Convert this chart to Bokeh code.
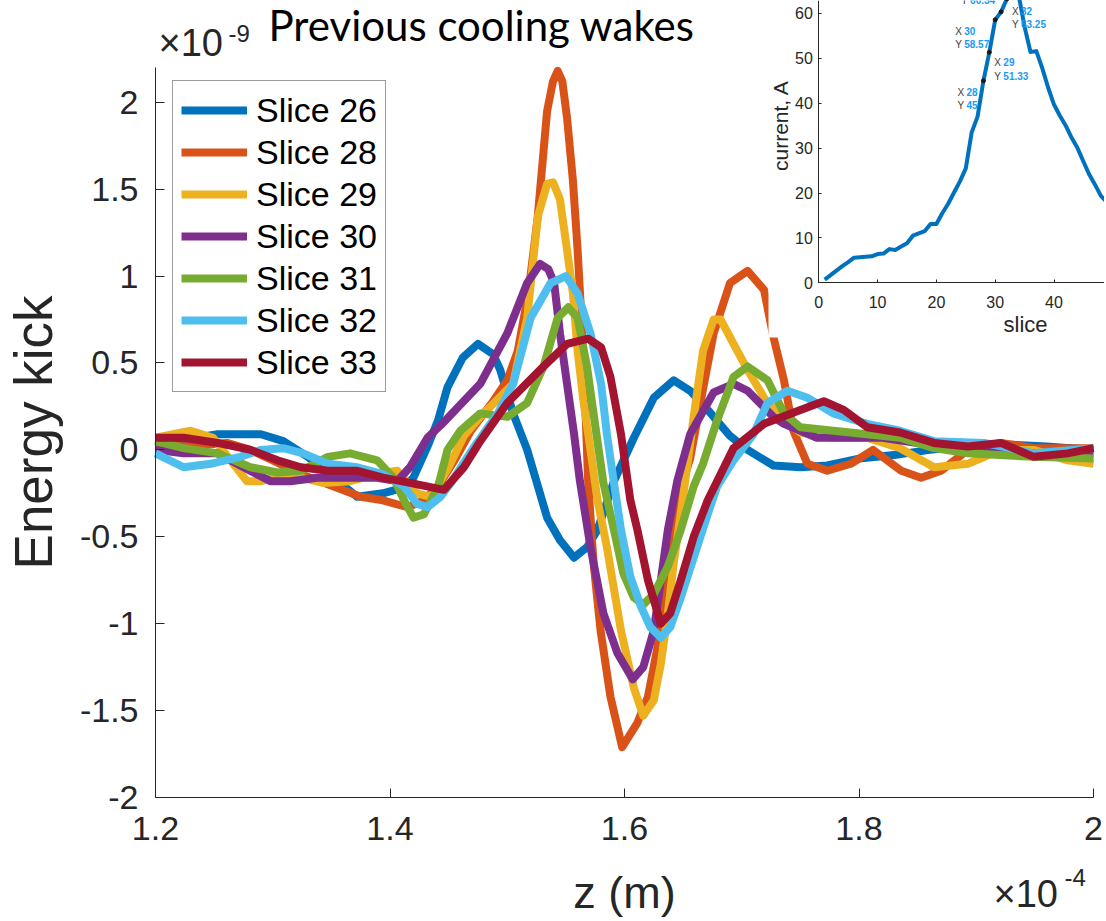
import math
from bokeh.plotting import figure
from bokeh.models import (Range1d, FixedTicker, CustomJSTickFormatter, Legend, LegendItem,
                          Label, LinearAxis, BoxAnnotation)
from bokeh.embed import file_html
from bokeh.resources import INLINE

# ---------------- data: main chart (z in 1e-4 m, energy kick in 1e-9) ----------------
z26 = [1.200, 1.225, 1.253, 1.290, 1.309, 1.330, 1.352, 1.372, 1.394, 1.410, 1.420, 1.432, 1.441, 1.449, 1.462,
       1.475, 1.488, 1.494, 1.505, 1.517, 1.534, 1.545, 1.557, 1.568, 1.577, 1.591, 1.608, 1.625, 1.642, 1.656,
       1.671, 1.690, 1.705, 1.727, 1.750, 1.773, 1.800, 1.830, 1.860, 1.893, 1.930, 1.960, 2.000]
v26 = [0.02, 0.06, 0.09, 0.09, 0.05, -0.04, -0.16, -0.27, -0.25, -0.22, -0.16, 0.02, 0.17, 0.36, 0.53,
       0.61, 0.55, 0.46, 0.21, 0.00, -0.39, -0.52, -0.62, -0.56, -0.46, -0.18, 0.07, 0.30, 0.40, 0.34,
       0.23, 0.08, 0.00, -0.09, -0.10, -0.09, -0.05, -0.03, 0.00, 0.02, 0.03, 0.02, 0.00]

z28 = [1.200, 1.224, 1.261, 1.281, 1.300, 1.324, 1.352, 1.375, 1.394, 1.415, 1.429, 1.441, 1.455, 1.469, 1.488,
       1.500, 1.509, 1.518, 1.526, 1.534, 1.539, 1.543, 1.547, 1.551, 1.556, 1.560, 1.5625, 1.566, 1.569, 1.5736,
       1.5796, 1.588, 1.598, 1.611, 1.620, 1.628, 1.637, 1.645, 1.650, 1.656, 1.667, 1.676, 1.690, 1.705, 1.719,
       1.727, 1.736, 1.744, 1.756, 1.773, 1.793, 1.812, 1.836, 1.853, 1.870, 1.893, 1.921, 1.949, 2.000]
v28 = [0.04, 0.02, 0.04, 0.00, -0.06, -0.14, -0.21, -0.27, -0.29, -0.33, -0.29, -0.21, -0.06, 0.11, 0.28,
       0.40, 0.57, 0.90, 1.34, 1.95, 2.12, 2.18, 2.12, 1.91, 1.55, 1.15, 0.85, 0.35, -0.18, -0.65,
       -1.04, -1.42, -1.71, -1.57, -1.42, -1.14, -0.75, -0.37, -0.18, -0.05, 0.35, 0.67, 0.96, 1.03, 0.92,
       0.65, 0.40, 0.11, -0.08, -0.12, -0.08, 0.00, -0.12, -0.16, -0.12, 0.00, 0.04, 0.01, 0.01]

z29 = [1.200, 1.230, 1.249, 1.264, 1.278, 1.290, 1.309, 1.324, 1.343, 1.366, 1.389, 1.406, 1.423, 1.435, 1.450,
       1.463, 1.477, 1.505, 1.517, 1.526, 1.534, 1.539, 1.545, 1.551, 1.556, 1.560, 1.565, 1.571, 1.577, 1.585,
       1.597, 1.608, 1.616, 1.625, 1.631, 1.637, 1.642, 1.650, 1.659, 1.667, 1.676, 1.682, 1.693, 1.705, 1.720,
       1.736, 1.750, 1.778, 1.807, 1.835, 1.864, 1.893, 1.921, 1.949, 1.978, 2.000]
v29 = [0.07, 0.11, 0.07, -0.06, -0.18, -0.18, -0.14, -0.16, -0.19, -0.18, -0.14, -0.12, -0.25, -0.27, -0.10,
       0.08, 0.19, 0.38, 0.76, 1.34, 1.53, 1.54, 1.44, 1.15, 0.90, 0.57, 0.28, 0.00, -0.29, -0.56,
       -1.04, -1.37, -1.53, -1.44, -1.23, -0.94, -0.65, -0.27, 0.19, 0.57, 0.75, 0.75, 0.61, 0.46, 0.29,
       0.17, 0.10, 0.07, 0.07, 0.01, -0.10, -0.08, 0.00, 0.00, -0.06, -0.08]

z30 = [1.200, 1.224, 1.253, 1.275, 1.298, 1.315, 1.338, 1.366, 1.389, 1.406, 1.417, 1.432, 1.446, 1.477, 1.500,
       1.517, 1.528, 1.535, 1.540, 1.545, 1.551, 1.557, 1.562, 1.571, 1.582, 1.594, 1.607, 1.616, 1.625, 1.631,
       1.637, 1.645, 1.656, 1.676, 1.693, 1.705, 1.727, 1.736, 1.764, 1.792, 1.820, 1.850, 1.878, 1.921, 1.978,
       2.000]
v30 = [0.00, -0.02, -0.02, -0.10, -0.18, -0.18, -0.16, -0.16, -0.16, -0.18, -0.10, 0.07, 0.16, 0.38, 0.67,
       0.96, 1.07, 1.04, 0.96, 0.67, 0.38, 0.09, -0.18, -0.56, -0.94, -1.17, -1.32, -1.25, -1.04, -0.75,
       -0.46, -0.18, 0.09, 0.33, 0.38, 0.34, 0.19, 0.15, 0.07, 0.07, 0.07, 0.04, 0.04, -0.02, -0.02,
       -0.02]

z31 = [1.200, 1.224, 1.253, 1.281, 1.304, 1.324, 1.347, 1.366, 1.389, 1.403, 1.412, 1.420, 1.429, 1.441, 1.449,
       1.460, 1.477, 1.500, 1.517, 1.531, 1.543, 1.552, 1.560, 1.568, 1.574, 1.582, 1.591, 1.599, 1.608, 1.616,
       1.625, 1.637, 1.648, 1.659, 1.667, 1.679, 1.693, 1.705, 1.722, 1.736, 1.750, 1.778, 1.807, 1.835, 1.864,
       1.893, 1.949, 2.000]
v31 = [0.05, 0.01, -0.02, -0.10, -0.13, -0.12, -0.04, -0.02, -0.06, -0.16, -0.29, -0.39, -0.37, -0.21, 0.00,
       0.11, 0.21, 0.19, 0.27, 0.48, 0.76, 0.82, 0.76, 0.48, 0.19, -0.19, -0.46, -0.71, -0.85, -0.89,
       -0.83, -0.67, -0.46, -0.21, -0.08, 0.17, 0.42, 0.48, 0.40, 0.21, 0.13, 0.11, 0.09, 0.07, 0.01,
       -0.02, -0.04, -0.05]

z32 = [1.200, 1.224, 1.247, 1.272, 1.290, 1.309, 1.326, 1.347, 1.372, 1.394, 1.412, 1.423, 1.432, 1.443, 1.452,
       1.471, 1.492, 1.505, 1.520, 1.537, 1.550, 1.560, 1.571, 1.580, 1.585, 1.591, 1.597, 1.605, 1.614, 1.622,
       1.631, 1.639, 1.648, 1.659, 1.671, 1.679, 1.693, 1.710, 1.722, 1.739, 1.756, 1.778, 1.807, 1.835, 1.864,
       1.907, 1.949, 2.000]
v32 = [-0.02, -0.10, -0.08, -0.04, 0.00, 0.01, -0.02, -0.08, -0.10, -0.14, -0.21, -0.31, -0.33, -0.27, -0.19,
       0.01, 0.21, 0.38, 0.76, 0.96, 1.00, 0.90, 0.67, 0.38, 0.09, -0.19, -0.46, -0.73, -0.90, -1.02,
       -1.08, -1.02, -0.85, -0.62, -0.37, -0.21, -0.06, 0.09, 0.27, 0.34, 0.30, 0.21, 0.15, 0.11, 0.05,
       0.04, -0.02, 0.01]

z33 = [1.200, 1.224, 1.253, 1.281, 1.304, 1.324, 1.347, 1.372, 1.394, 1.417, 1.446, 1.463, 1.477, 1.500, 1.528,
       1.551, 1.569, 1.580, 1.588, 1.597, 1.605, 1.611, 1.620, 1.631, 1.639, 1.648, 1.659, 1.671, 1.679, 1.693,
       1.719, 1.750, 1.770, 1.787, 1.807, 1.835, 1.864, 1.893, 1.921, 1.949, 1.978, 2.000]
v33 = [0.07, 0.07, 0.04, 0.00, -0.06, -0.10, -0.12, -0.12, -0.16, -0.19, -0.23, -0.10, 0.05, 0.27, 0.46,
       0.61, 0.64, 0.59, 0.42, 0.09, -0.29, -0.46, -0.75, -1.00, -0.94, -0.75, -0.50, -0.29, -0.18, 0.01,
       0.15, 0.23, 0.28, 0.23, 0.13, 0.10, 0.04, 0.02, 0.04, -0.04, -0.02, 0.01]

series_names = ["Slice 26", "Slice 28", "Slice 29", "Slice 30", "Slice 31", "Slice 32", "Slice 33"]
series_colors = ["#0072BD", "#D95319", "#EDB120", "#7E2F8E", "#77AC30", "#4DBEEE", "#A2142F"]
series_z = [z26, z28, z29, z30, z31, z32, z33]
series_v = [v26, v28, v29, v30, v31, v32, v33]

x_ticks = [1.2, 1.4, 1.6, 1.8, 2.0]
y_ticks = [-2.0, -1.5, -1.0, -0.5, 0.0, 0.5, 1.0, 1.5, 2.0]

# ---------------- data: inset (current per slice) ----------------
inset_slice = [1, 2, 3, 4, 5, 6, 7, 8, 9, 10, 11, 12, 13, 14, 15, 16, 17, 18, 19, 20,
               21, 22, 23, 24, 25, 26, 27, 28, 29, 30, 31, 32, 33, 34, 35, 36, 37, 38, 39, 40,
               41, 42, 43, 44, 45, 46, 47, 48, 49]
inset_current = [0.7, 1.7, 2.7, 3.7, 4.6, 5.6, 5.7, 5.8, 5.9, 6.4, 6.5, 7.5, 7.3, 8.1, 8.8, 10.5, 11.0, 11.5, 13.1, 13.1,
                 15.5, 17.6, 20.1, 22.6, 25.5, 33.5, 37.0, 45.0, 51.33, 58.57, 60.34, 63.25, 66.5, 64.0, 57.0, 51.4,
                 51.6, 47.8, 43.5, 39.7, 37.2, 35.0, 32.3, 30.0, 27.0, 24.1, 21.8, 19.3, 18.0]
tip_slice = [28, 29, 30, 31, 32]
tip_current = [45.0, 51.33, 58.57, 60.34, 63.25]
inset_x_ticks = [0, 10, 20, 30, 40, 50]
inset_y_ticks = [0, 10, 20, 30, 40, 50, 60]

# ---------------- page geometry (reference-page pixels) ----------------
W, H = 1104, 918
FONT = "Liberation Sans"
AX = "#262626"
ML, MR, MT, MB = 155.0, 1093.0, 67.0, 797.0      # main axes box
X0, X1, Y0, Y1 = 1.2, 2.0, -2.0, 2.2
IX0, IY0, IPX, IPY = 818.3, 282.3, 5.88, 4.49      # inset origin and px per unit
IBOX_L, IBOX_B = 768, 337                          # white inset box left / bottom

kx = (MR - ML) / (X1 - X0)
ky = (MB - MT) / (Y1 - Y0)

p = figure(width=W, height=H, output_backend="svg", toolbar_location=None,
           x_axis_type=None, y_axis_type=None,
           x_range=Range1d(X0 - ML / kx, X0 + (W - ML) / kx),
           y_range=Range1d(Y0 - (H - MB) / ky, Y0 + MB / ky),
           min_border=0)
p.extra_x_ranges = {"ix": Range1d(-IX0 / IPX, (W - IX0) / IPX)}
p.extra_y_ranges = {"iy": Range1d((IY0 - H) / IPY, IY0 / IPY)}
p.outline_line_color = None
p.grid.visible = False
p.background_fill_color = "white"
p.border_fill_color = "white"

fmt = CustomJSTickFormatter(code="return String(Math.round(tick*100)/100);")


def style_axis(ax, ticks, size, tick_len, standoff):
    ax.ticker = FixedTicker(ticks=ticks)
    ax.formatter = fmt
    ax.axis_line_color = AX
    ax.axis_line_width = 1
    ax.major_tick_line_color = AX
    ax.major_tick_in = tick_len
    ax.major_tick_out = 0
    ax.minor_tick_line_color = None
    ax.major_label_standoff = standoff
    ax.major_label_text_font = FONT
    ax.major_label_text_font_size = size
    ax.major_label_text_color = AX


xa = LinearAxis(fixed_location=Y0, bounds=(X0, X1))
style_axis(xa, x_ticks, "34px", 9, 19)
p.add_layout(xa, "below")
ya = LinearAxis(fixed_location=X0, bounds=(Y0, Y1))
style_axis(ya, y_ticks, "34px", 9, 17)
p.add_layout(ya, "left")

items = []
for name, col, zz, vv in zip(series_names, series_colors, series_z, series_v):
    r = p.line(zz, vv, line_color=col, line_width=8, line_join="round")
    items.append(LegendItem(label=name, renderers=[r]))

legend = Legend(items=items, location=(172, H - 392), padding=8, spacing=0, margin=0,
                glyph_width=66, glyph_height=42, label_standoff=9, label_height=42,
                label_text_font=FONT, label_text_font_size="34px", label_text_color="black",
                border_line_color="#3a3a3a", border_line_width=1,
                background_fill_color="white", background_fill_alpha=1.0)
p.add_layout(legend)


def add_text(text, pos, base, size, drift, font=FONT, color=AX, rotated=False, align="left",
             level="annotation"):
    """pos/base in page pixels; base = wanted baseline (y, or x when rotated);
    drift = measured offset between the Label anchor and the drawn baseline."""
    if rotated:
        x, y, ang = base - drift, H - pos, math.pi / 2
    else:
        x, y, ang = pos, H - (base - drift), 0.0
    p.add_layout(Label(x=x, y=y, x_units="screen", y_units="screen", text=text,
                       text_font=font, text_font_size=f"{size}px", text_color=color, angle=ang,
                       text_align=align, text_baseline="alphabetic", level=level))


add_text("Energy kick", (MT + MB) / 2, 56, 53, 23, rotated=True, align="center")
add_text("z (m)", (ML + MR) / 2, 903, 45, 11.5, align="center")
add_text("\u00d710", 158, 55, 38, 13)
add_text("-9", 228, 40, 24, 7)
add_text("\u00d710", 993, 906, 38, 13)
add_text("-4", 1064, 884, 24, 7)
add_text("Previous cooling wakes", 268, 42, 42, 18, font="Lato", color="black")

# ---------------- inset (drawn on top of a white box) ----------------
p.add_layout(BoxAnnotation(left=(IBOX_L - IX0) / IPX, bottom=(IY0 - IBOX_B) / IPY,
                           x_range_name="ix", y_range_name="iy",
                           fill_color="white", fill_alpha=1.0, line_color=None))

il = p.line(inset_slice, inset_current, x_range_name="ix", y_range_name="iy",
            line_color="#0072BD", line_width=4, line_join="round")
il.level = "overlay"
isc = p.scatter(tip_slice, tip_current, x_range_name="ix", y_range_name="iy", size=4, color="#1a1a1a")
isc.level = "overlay"

ixa = LinearAxis(x_range_name="ix", y_range_name="iy", fixed_location=0, bounds=(0, 70), level="overlay")
style_axis(ixa, inset_x_ticks, "16px", 3, 13)
p.add_layout(ixa, "below")
iya = LinearAxis(x_range_name="ix", y_range_name="iy", fixed_location=0, bounds=(0, 80), level="overlay")
style_axis(iya, inset_y_ticks, "16px", 3, 6)
p.add_layout(iya, "left")

add_text("current, A", 125, 789, 21, 9, rotated=True, align="center", level="overlay")
add_text("slice", 1025, 330, 22, 6, align="center", level="overlay")

# data tips: offsets of each box's top-left corner from its data point (px)
tip_dx = [-30, 1, -44, -44, 1]
tip_dy = [-2, -1, -2, 34, -3]
for s, c, dx, dy in zip(tip_slice, tip_current, tip_dx, tip_dy):
    num = f"{c:g}"
    common = dict(x=s, y=c, x_range_name="ix", y_range_name="iy", anchor="top_left",
                  text_font=FONT, text_font_size="10px", level="overlay")
    p.add_layout(Label(text=f"X {s}\nY {num}", x_offset=dx, y_offset=dy, text_font_style="bold",
                       text_alpha=0.0, padding=4, background_fill_color="#fbfbfc",
                       border_line_color="#c4c4c8", border_line_width=1, **common))
    p.add_layout(Label(text="X\nY", x_offset=dx, y_offset=dy, text_color="#404040", padding=4, **common))
    p.add_layout(Label(text=f"{s}\n{num}", x_offset=dx + 13, y_offset=dy - 4, text_font_style="bold",
                       text_color="#1a9af5", padding=0, **common))

open("out.html", "w").write(file_html(p, INLINE))
